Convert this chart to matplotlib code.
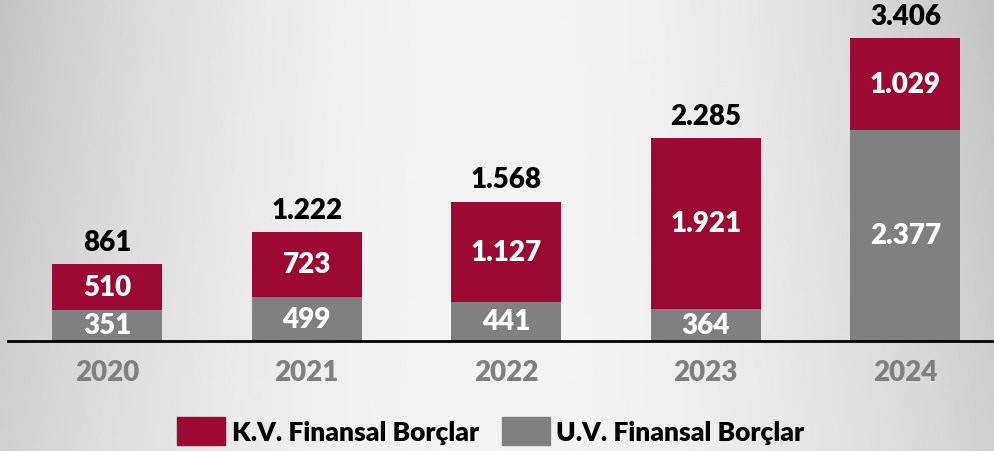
import numpy as np
import matplotlib
matplotlib.use("Agg")
import matplotlib.pyplot as plt
from matplotlib.patches import Patch

years = ["2020", "2021", "2022", "2023", "2024"]
uv_values = [351, 499, 441, 364, 2377]   # U.V. Finansal Borçlar (gray, bottom)
kv_values = [510, 723, 1127, 1921, 1029]  # K.V. Finansal Borçlar (red, top)
totals = [861, 1222, 1568, 2285, 3406]
series_names = ["K.V. Finansal Borçlar", "U.V. Finansal Borçlar"]

RED = "#9C0A33"
GRAY = "#808080"

plt.rcParams['font.family'] = ['Lato', 'DejaVu Sans']

def fmt(v):
    return f"{v:,}".replace(",", ".")

fig = plt.figure(figsize=(9.94, 4.52), dpi=100)

# background gradient
bg = fig.add_axes([0, 0, 1, 1], zorder=-10)
xx = np.linspace(-1, 1, 400)
yy = np.linspace(0, 1, 200)
X, Y = np.meshgrid(xx, yy)
B = 0.955 - 0.14 * X**2 - 0.05 * (1 - Y) * X**2
bg.imshow(B, cmap="gray", vmin=0, vmax=1, aspect="auto", extent=[0, 1, 0, 1], origin="upper")
bg.set_axis_off()

bottom_frac = (452 - 342) / 452
ax = fig.add_axes([0, bottom_frac, 1, 1 - bottom_frac])
ax.patch.set_alpha(0)
x = np.arange(len(years))
w = 110 / 199.6
ax.bar(x, uv_values, width=w, color=GRAY, zorder=2)
ax.bar(x, kv_values, width=w, bottom=uv_values, color=RED, zorder=2)

ax.set_xlim(-107 / 199.6, (994 - 107) / 199.6)
ax.set_ylim(0, 342 / 0.08896)
for s in ax.spines.values():
    s.set_visible(False)
ax.set_yticks([])
ax.set_xticks([])
ax.axhline(0, xmin=8 / 994, xmax=1, color="black", lw=2, zorder=3, clip_on=False)

fs = 20
wt = "heavy"
for i in range(len(years)):
    ax.text(x[i], uv_values[i] / 2, fmt(uv_values[i]), ha="center", va="center",
            color="white", fontsize=fs, fontweight=wt, zorder=4)
    ax.text(x[i], uv_values[i] + kv_values[i] / 2, fmt(kv_values[i]), ha="center", va="center",
            color="white", fontsize=fs, fontweight=wt, zorder=4)
    ax.annotate(fmt(totals[i]), (x[i], totals[i]), xytext=(0, 16), textcoords="offset points",
                ha="center", va="center", color="black", fontsize=fs, fontweight=wt)
    ax.annotate(years[i], (x[i], 0), xytext=(0, -22), textcoords="offset points",
                ha="center", va="center", color=GRAY, fontsize=fs, fontweight=wt,
                annotation_clip=False)

lfs = 19
handles = [Patch(color=RED), Patch(color=GRAY)]
leg = fig.legend(handles, series_names, loc="center", bbox_to_anchor=(491 / 994, 1 - 432 / 452),
                 ncol=2, frameon=False, prop={"size": lfs, "weight": wt},
                 handlelength=1.8, handleheight=1.2, handletextpad=0.25, columnspacing=0.9,
                 borderpad=0, borderaxespad=0)

fig.savefig("out.png", dpi=100)
